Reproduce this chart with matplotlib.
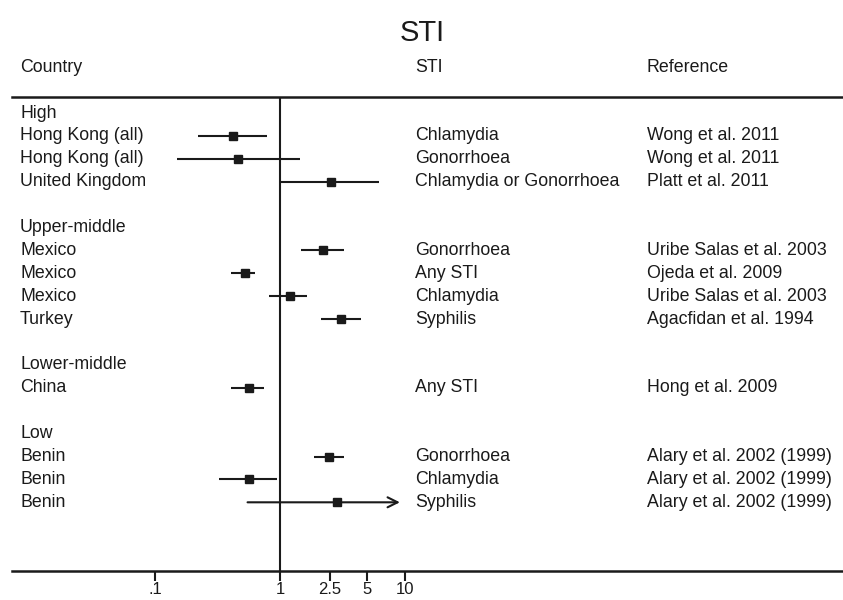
import numpy as np
import matplotlib
matplotlib.use("Agg")
import matplotlib.pyplot as plt
import matplotlib.transforms as mtransforms

plt.rcParams['font.family'] = ['Liberation Sans', 'DejaVu Sans']

# Rows of the forest plot (group headers have no estimate)
groups = ["High", "Upper-middle", "Lower-middle", "Low"]
countries = [
    ["Hong Kong (all)", "Hong Kong (all)", "United Kingdom"],
    ["Mexico", "Mexico", "Mexico", "Turkey"],
    ["China"],
    ["Benin", "Benin", "Benin"],
]
stis = [
    ["Chlamydia", "Gonorrhoea", "Chlamydia or Gonorrhoea"],
    ["Gonorrhoea", "Any STI", "Chlamydia", "Syphilis"],
    ["Any STI"],
    ["Gonorrhoea", "Chlamydia", "Syphilis"],
]
references = [
    ["Wong et al. 2011", "Wong et al. 2011", "Platt et al. 2011"],
    ["Uribe Salas et al. 2003", "Ojeda et al. 2009",
     "Uribe Salas et al. 2003", "Agacfidan et al. 1994"],
    ["Hong et al. 2009"],
    ["Alary et al. 2002 (1999)", "Alary et al. 2002 (1999)",
     "Alary et al. 2002 (1999)"],
]
estimate = [
    [0.42, 0.46, 2.57],
    [2.22, 0.525, 1.21, 3.1],
    [0.56],
    [2.48, 0.57, 2.84],
]
ci_low = [
    [0.22, 0.149, 1.02],
    [1.46, 0.405, 0.82, 2.12],
    [0.405],
    [1.87, 0.325, 0.55],
]
ci_high = [
    [0.79, 1.45, 6.2],
    [3.27, 0.63, 1.64, 4.42],
    [0.75],
    [3.23, 0.95, 9.1],
]
# upper CI is truncated (drawn as an arrow)
truncated = [
    [False, False, False],
    [False, False, False, False],
    [False],
    [False, False, True],
]
tick_vals = [0.1, 1, 2.5, 5, 10]
tick_labels = [".1", "1", "2.5", "5", "10"]

W, H = 843, 600
ink = "#1a1a1a"
fig = plt.figure(figsize=(W / 100, H / 100), dpi=100)
ax = fig.add_axes([12 / W, 1 - 571 / H, 831 / W, (571 - 97) / H])
ax.set_xscale("log")
ax.set_xlim(10 ** ((12 - 280) / 125), 10 ** ((843 - 280) / 125))
ax.set_ylim(20.0, -0.7)

fs = 12.8
col_x = [20 / W, 415 / W, 647 / W]
trans = mtransforms.blended_transform_factory(fig.transFigure, ax.transData)

row = 0
for g, grp in enumerate(groups):
    ax.text(col_x[0], row, grp, transform=trans, fontsize=fs, va="center",
            color=ink)
    row += 1
    for i in range(len(countries[g])):
        ax.text(col_x[0], row, countries[g][i], transform=trans,
                fontsize=fs, va="center", color=ink)
        ax.text(col_x[1], row, stis[g][i], transform=trans,
                fontsize=fs, va="center", color=ink)
        ax.text(col_x[2], row, references[g][i], transform=trans,
                fontsize=fs, va="center", color=ink)
        if truncated[g][i]:
            ax.annotate("", xy=(ci_high[g][i], row), xytext=(ci_low[g][i], row),
                        arrowprops=dict(arrowstyle="->", lw=1.5, color=ink,
                                        mutation_scale=18, shrinkA=0, shrinkB=0))
        else:
            ax.plot([ci_low[g][i], ci_high[g][i]], [row, row],
                    color=ink, lw=1.5, solid_capstyle="butt")
        ax.plot(estimate[g][i], row, marker="s", ms=6, color=ink,
                linestyle="none")
        row += 1
    row += 1

ax.axvline(1, color=ink, lw=1.5)

for side in ["left", "right"]:
    ax.spines[side].set_visible(False)
for side in ["top", "bottom"]:
    ax.spines[side].set_linewidth(1.8)
    ax.spines[side].set_color(ink)
ax.set_yticks([])
ax.xaxis.set_minor_locator(matplotlib.ticker.NullLocator())
ax.set_xticks(tick_vals)
ax.set_xticklabels(tick_labels, fontsize=12, color=ink)
ax.tick_params(axis="x", length=7.5, width=1.5, color=ink, pad=0.5)

fig.text(col_x[0], 1 - 68 / H, "Country", fontsize=fs, va="center", color=ink)
fig.text(col_x[1], 1 - 68 / H, "STI", fontsize=fs, va="center", color=ink)
fig.text(col_x[2], 1 - 68 / H, "Reference", fontsize=fs, va="center", color=ink)
fig.text(422 / W, 1 - 33 / H, "STI", fontsize=21, ha="center", va="center",
         color=ink)

fig.savefig("out.png", dpi=100)
